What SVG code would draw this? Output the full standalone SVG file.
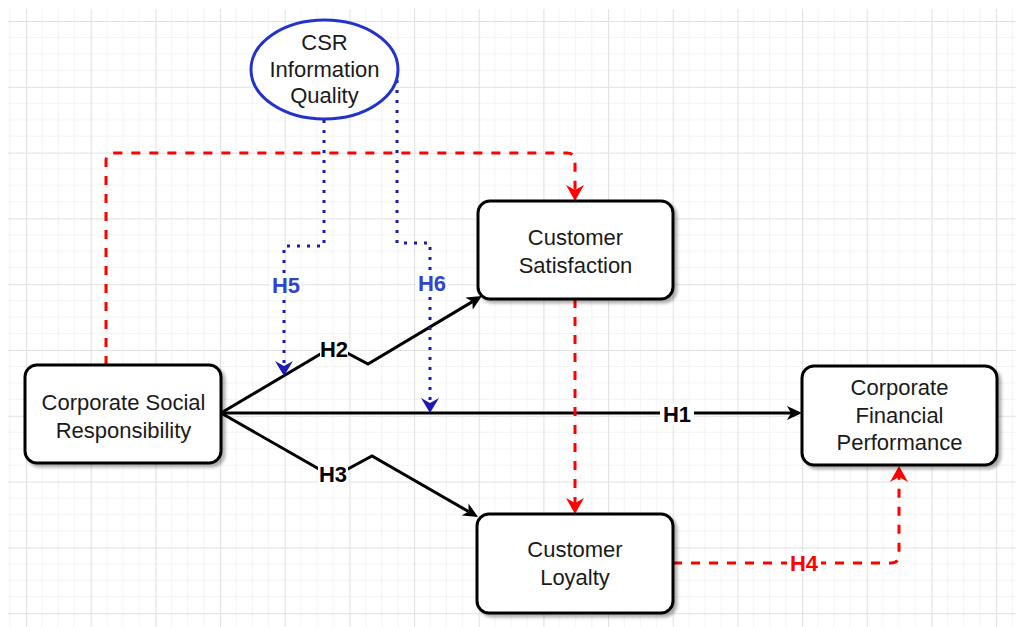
<svg xmlns="http://www.w3.org/2000/svg" width="1016" height="627" viewBox="0 0 1016 627">
<style>
.node{fill:#ffffff;stroke:#000000;stroke-width:3}
.ntxt{font-family:"Liberation Sans",Arial,sans-serif;font-size:22px;fill:#1a1a1a;text-anchor:middle}
.lbl{font-family:"Liberation Sans",Arial,sans-serif;font-size:22px;font-weight:bold;text-anchor:middle}
.solid{fill:none;stroke:#000000;stroke-width:3}
.red{fill:none;stroke:#ff0000;stroke-width:3;stroke-dasharray:9 9}
.blue{fill:none;stroke:#1c1cb0;stroke-width:3;stroke-dasharray:3 7}
</style>
<defs>
<pattern id="grid" patternUnits="userSpaceOnUse" x="26" y="21" width="64.67" height="65.8">
<path d="M16.17,0V65.8M32.33,0V65.8M48.5,0V65.8M0,16.45H64.67M0,32.9H64.67M0,49.35H64.67" stroke="#f3f3f3" stroke-width="1" fill="none"/>
<path d="M0.5,0V65.8M0,0.5H64.67" stroke="#e2e2e2" stroke-width="1.2" fill="none"/>
</pattern>
<filter id="sh" x="-10%" y="-10%" width="130%" height="130%">
<feDropShadow dx="3" dy="3" stdDeviation="1.5" flood-color="#000" flood-opacity="0.3"/>
</filter>
<marker id="ab" markerUnits="userSpaceOnUse" markerWidth="15" markerHeight="14" refX="4" refY="7" orient="auto">
<path d="M0,0L15,7L0,14L4,7z" fill="#000"/>
</marker>
<marker id="ar" markerUnits="userSpaceOnUse" markerWidth="16" markerHeight="18" refX="5" refY="9" orient="auto">
<path d="M0,0L16,9L0,18L5,9z" fill="#ff0000"/>
</marker>
<marker id="au" markerUnits="userSpaceOnUse" markerWidth="15" markerHeight="18" refX="5" refY="9" orient="auto">
<path d="M0,0L15,9L0,18L5,9z" fill="#1c1cb0"/>
</marker>
</defs>
<rect width="1016" height="627" fill="#ffffff"/>
<rect x="8" y="9" width="1008" height="618" fill="url(#grid)"/>

<g id="connectors">
<path id="e-h1" class="solid" d="M221,413L791,413" marker-end="url(#ab)"/>
<path id="e-h2" class="solid" d="M221,413L334,346L368,364L472.5,301.6" marker-end="url(#ab)"/>
<path id="e-h3" class="solid" d="M221,413L333,477L372,456L468.5,511.5" marker-end="url(#ab)"/>
<path id="e-csr-cs" class="red" d="M106,365L106,161Q106,153 114,153L567,153Q575,153 575,161L575,190" marker-end="url(#ar)"/>
<path id="e-cs-cl" class="red" d="M575,299L575,503" marker-end="url(#ar)"/>
<path id="e-h4" class="red" d="M673,563L891,563Q899,563 899,555L899,477" marker-end="url(#ar)"/>
<path id="e-h5" class="blue" d="M324,120L324,246L284,246L284,366" marker-end="url(#au)"/>
<path id="e-h6" class="blue" d="M397,80L397,243L430,243L430,403" marker-end="url(#au)"/>
<g id="labels">
<rect x="660" y="403" width="34" height="22" fill="#fff"/>
<text class="lbl" x="677" y="421.5" fill="#000">H1</text>
<rect x="320" y="339" width="28" height="21" fill="#fff"/>
<text class="lbl" x="334" y="357" fill="#000">H2</text>
<rect x="318" y="464" width="30" height="21" fill="#fff"/>
<text class="lbl" x="333" y="482" fill="#000">H3</text>
<rect x="787" y="552" width="34" height="22" fill="#fff"/>
<text class="lbl" x="804" y="571" fill="#ff0000">H4</text>
<rect x="270" y="274" width="32" height="22" fill="#fff"/>
<text class="lbl" x="286" y="293" fill="#3344cc">H5</text>
<rect x="416" y="270" width="32" height="23" fill="#fff"/>
<text class="lbl" x="432" y="290.5" fill="#3344cc">H6</text>
</g>
</g>

<g id="node-csriq">
<ellipse cx="324.5" cy="69.5" rx="73.5" ry="49.5" fill="#ffffff" stroke="#2233cc" stroke-width="3"/>
<text class="ntxt" x="324.5" y="50">CSR</text>
<text class="ntxt" x="324.5" y="77">Information</text>
<text class="ntxt" x="324.5" y="103">Quality</text>
</g>

<g id="node-csr">
<rect class="node" x="25" y="365" width="196" height="98" rx="12" filter="url(#sh)"/>
<text class="ntxt" x="123.5" y="410">Corporate Social</text>
<text class="ntxt" x="123.5" y="437.5">Responsibility</text>
</g>

<g id="node-cs">
<rect class="node" x="478" y="201" width="195" height="98" rx="12" filter="url(#sh)"/>
<text class="ntxt" x="575.5" y="245">Customer</text>
<text class="ntxt" x="575.5" y="272.5">Satisfaction</text>
</g>

<g id="node-cfp">
<rect class="node" x="802" y="366" width="195" height="99" rx="12" filter="url(#sh)"/>
<text class="ntxt" x="899.5" y="395">Corporate</text>
<text class="ntxt" x="899.5" y="422.5">Financial</text>
<text class="ntxt" x="899.5" y="450">Performance</text>
</g>

<g id="node-cl">
<rect class="node" x="477" y="514" width="196" height="99" rx="12" filter="url(#sh)"/>
<text class="ntxt" x="575" y="557">Customer</text>
<text class="ntxt" x="575" y="585">Loyalty</text>
</g>
</svg>
